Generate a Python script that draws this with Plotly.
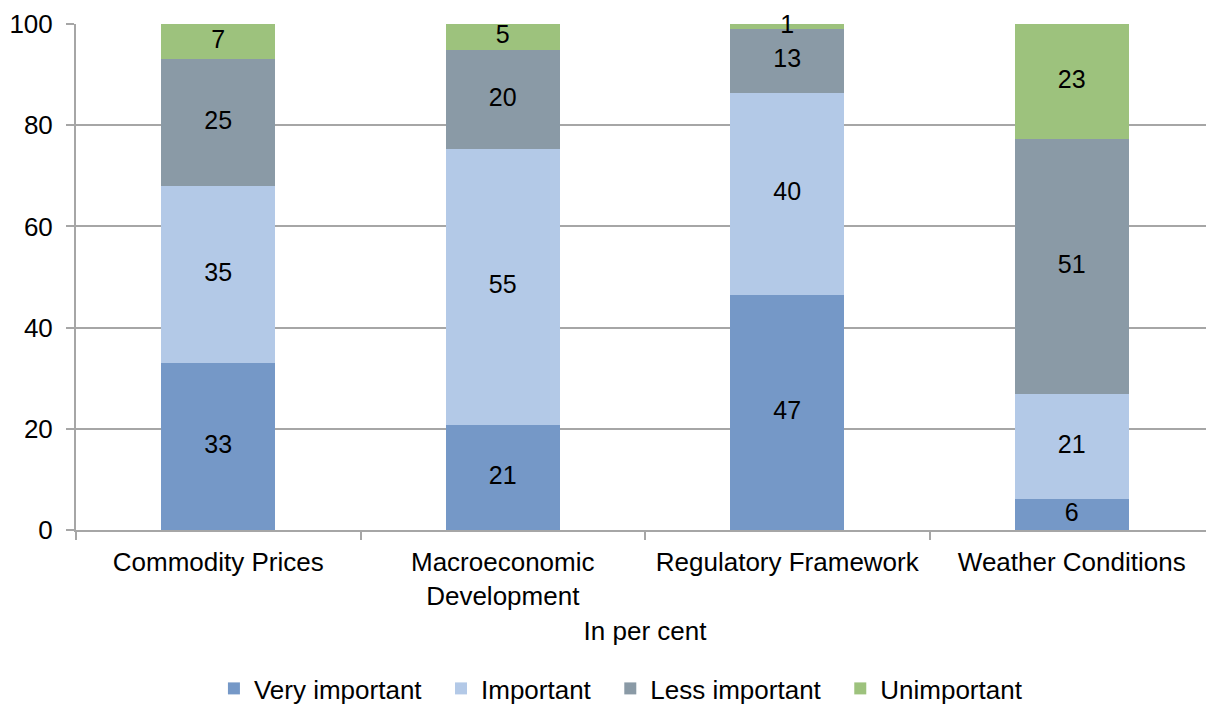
import plotly.graph_objects as go

# ── Data (in per cent) ────────────────────────────────────────────────────
categories = ["Commodity Prices", "Macroeconomic<br>Development",
              "Regulatory Framework", "Weather Conditions"]

very_important = [33.0, 20.7, 46.5, 6.2]
important = [35.0, 54.6, 39.8, 20.6]
less_important = [25.0, 19.6, 12.8, 50.5]
unimportant = [7.0, 5.1, 0.9, 22.7]

very_labels = ["33", "21", "47", "6"]
important_labels = ["35", "55", "40", "21"]
less_labels = ["25", "20", "13", "51"]
unimportant_labels = ["7", "5", "1", "23"]

series = [
    ("Very important", very_important, very_labels, "#7598C7"),
    ("Important", important, important_labels, "#B3C9E7"),
    ("Less important", less_important, less_labels, "#8A9AA6"),
    ("Unimportant", unimportant, unimportant_labels, "#9DC27D"),
]

_FONT = "Liberation Sans, Arial, sans-serif"
_GRID = "#A6A6A6"
_PAD = "\u00a0\u00a0"  # extra space between legend entries

fig = go.Figure()
base = [0.0] * len(categories)
for name, vals, labels, color in series:
    fig.add_trace(go.Bar(
        x=categories, y=vals, name=name + _PAD,
        marker=dict(color=color, line=dict(width=0)),
    ))
    # segment labels at the middle of each stacked block
    mids = [b + v / 2 for b, v in zip(base, vals)]
    fig.add_trace(go.Scatter(
        x=categories, y=mids, text=labels, mode="text",
        textfont=dict(size=25, color="black", family=_FONT),
        showlegend=False, hoverinfo="skip", cliponaxis=False,
    ))
    base = [b + v for b, v in zip(base, vals)]

# the page body adds an 8px offset, so the figure is 8px smaller
fig.update_layout(
    barmode="stack",
    bargap=0.6,
    width=1206, height=704,
    paper_bgcolor="white", plot_bgcolor="white",
    font=dict(family=_FONT, color="black", size=26),
    margin=dict(l=68, r=0, t=16, b=182),
    legend=dict(
        orientation="h", x=0.485, xanchor="center",
        yref="container", y=-0.005, yanchor="bottom",
        font=dict(size=26), itemwidth=30, traceorder="normal",
    ),
)
fig.update_yaxes(
    range=[0, 100], dtick=20, showgrid=True, gridcolor=_GRID, gridwidth=1.5,
    showline=True, linecolor=_GRID, linewidth=2,
    ticks="outside", ticklen=8, tickcolor=_GRID, tickwidth=2,
    tickfont=dict(size=26), zeroline=False, automargin=False,
    ticklabelstandoff=8,
)
fig.update_xaxes(
    showline=True, linecolor=_GRID, linewidth=2,
    ticks="outside", tickson="boundaries", ticklen=8, tickcolor=_GRID,
    tickwidth=2, tickfont=dict(size=26), automargin=False,
    ticklabelstandoff=8,
    title=dict(text="In per cent", font=dict(size=26), standoff=12),
)

fig.write_html("out.html")
